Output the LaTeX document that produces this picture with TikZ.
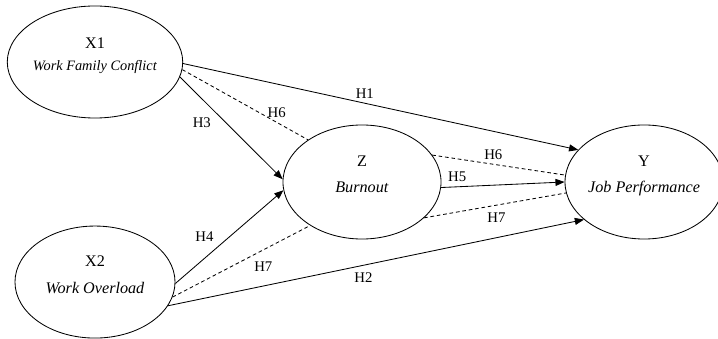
\documentclass[tikz,border=0pt]{standalone}
\usepackage{fontspec}
\setmainfont{Liberation Serif}
\usetikzlibrary{shapes.geometric,positioning,arrows.meta}

\begin{document}
\begin{tikzpicture}[x=0.025cm,y=-0.025cm,node distance=3cm,on grid,
		>={Triangle[length=6.5pt,width=5pt]},
		every node/.style={font=\fontsize{10.5}{12}\selectfont},
		latent/.style={ellipse,draw,line width=0.6pt,minimum width=4cm,minimum height=2.8cm,inner sep=0pt,
			align=center,text depth=11pt,font=\fontsize{11.5}{14}\selectfont},
		every edge/.style={draw,line width=0.6pt},
		indirect/.style={dash pattern=on 2.6pt off 2pt,-}]
	\useasboundingbox (0,0) rectangle (718,339);
	\node[latent] (x1) at (95,62) {X1\\[2pt]{\fontsize{10.2}{12}\selectfont\textit{Work Family Conflict}}};
	\node[latent] (x2) [below=5.5cm of x1] {X2\\[5pt]\textit{Work Overload}};
	\node[latent, minimum width=3.95cm, minimum height=2.85cm] (z) at (362,182) {Z\\[5pt]\textit{Burnout}};
	\node[latent, minimum width=3.7cm, minimum height=2.85cm] (y) [right=7.05cm of z] {Y\\[4pt]\textit{Job Performance}};
	\path[->]
	(x1.-1) edge node [above,pos=.46] {H1} (y.154)
	(x1.-5) edge [indirect] node [above,pos=.75] {H6} (z.142)
	(x1.-10) edge node [below left,pos=.35] {H3} (z.178)
	(x2.-1) edge node [above left,pos=.4] {H4} (z.186)
	(x2.-11) edge [indirect] node [below=5pt,pos=.66] {H7} (z.220)
	(x2.-18) edge node [below=2pt,pos=.47] {H2} (y.212)
	(z.21) edge [indirect] node [above,pos=.46] {H6} (y.175)
	(z.-4) edge node [above,pos=.13] {H5} (y.180)
	(z.-30) edge [indirect] node [below=2pt,pos=.51] {H7} (y.188);
\end{tikzpicture}
\end{document}
